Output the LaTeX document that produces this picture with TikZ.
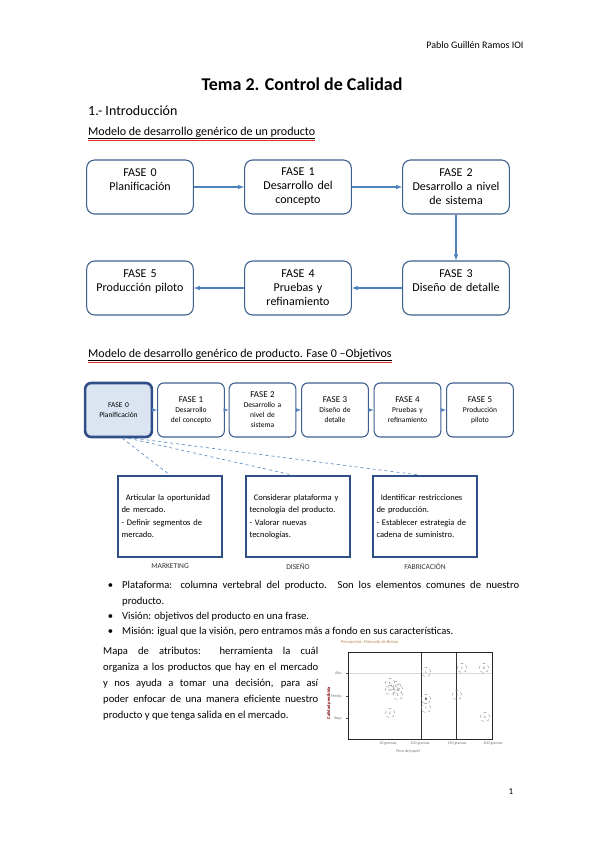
\documentclass[tikz,border=0pt]{standalone}
\usepackage{fontspec}
\setmainfont{Carlito}
\usetikzlibrary{calc}
\usetikzlibrary{positioning}

\definecolor{bordefase}{RGB}{62,96,142}
\definecolor{flechaazul}{RGB}{79,129,189}
\definecolor{fondofase}{RGB}{219,229,241}
\definecolor{bordeobj}{RGB}{48,78,135}
\definecolor{subrayado}{RGB}{230,40,40}

\tikzset{
  fase/.style={rectangle, rounded corners=8pt, draw=bordefase, line width=1.1pt, minimum width=104pt, minimum height=54pt, text width=100pt, align=center, font=\fontsize{12}{14}\selectfont},
  fasemini/.style={rectangle, rounded corners=6pt, draw=bordefase, line width=1.1pt, minimum width=62pt, minimum height=54pt, text width=60pt, align=center, font=\fontsize{7.5}{10}\selectfont},
  flecha/.style={->, >=latex, draw=flechaazul, line width=1.1pt},
  flechamini/.style={->, >=latex, draw=flechaazul, line width=0.7pt},
  sincortes/.style={execute at begin node={\hyphenpenalty=10000\relax}},
  objetivo/.style={rectangle, draw=bordeobj, line width=1.8pt, minimum width=104pt, minimum height=81pt, text width=97pt, align=left, font=\fontsize{8.5}{12}\selectfont, sincortes},
  area/.style={font=\fontsize{7.5}{9}\selectfont, text=black!80},
  producto/.style={circle, draw=black!45, dashed, line width=0.4pt, minimum size=9.5pt, inner sep=0pt, font=\fontsize{3.5}{4}\selectfont, text=black!60},
  mini/.style={font=\fontsize{4}{5}\selectfont, text=black!55}
}

\begin{document}
\begin{tikzpicture}[x=1pt, y=-1pt]
    \useasboundingbox (0,0) rectangle (599,848);

    % cabecera y titulos
    \node [anchor=east, font=\fontsize{10}{12}\selectfont] (autor) at (527,45) {Pablo Guillén Ramos IOI};
    \node [font=\fontsize{18}{21}\bfseries\selectfont] (titulo) at (302,84) {Tema 2. Control de Calidad};
    \node [anchor=west, inner sep=0pt, font=\fontsize{14}{16}\selectfont] (intro) at (88,111) {1.- Introducción};
    \node [anchor=west, inner sep=0pt, font=\fontsize{12}{14}\selectfont] (modelo) at (88,133) {\underline{Modelo de desarrollo genérico de un producto}};
    \draw [subrayado, line width=0.9pt] ([yshift=-1.2pt]modelo.south west) -- ([yshift=-1.2pt]modelo.south east);

    % modelo generico
    \node [fase] (fase0) at (140,187) {FASE 0\\Planificación\\~};
    \node [fase] (fase1) at (298,187) {FASE 1\\Desarrollo del\\concepto};
    \node [fase] (fase2) at (456,187) {FASE 2\\Desarrollo a nivel\\de sistema};
    \node [fase] (fase3) at (456,288) {FASE 3\\Diseño de detalle\\~};
    \node [fase] (fase4) at (298,288) {FASE 4\\Pruebas y\\refinamiento};
    \node [fase] (fase5) at (140,288) {FASE 5\\Producción piloto\\~};

    \draw [flecha] (fase0) -- (fase1);
    \draw [flecha] (fase1) -- (fase2);
    \draw [flecha] (fase2) -- (fase3);
    \draw [flecha] (fase3) -- (fase4);
    \draw [flecha] (fase4) -- (fase5);

    % fase 0 objetivos
    \node [anchor=west, inner sep=0pt, font=\fontsize{12}{14}\selectfont] (modelodos) at (88,355) {\underline{Modelo de desarrollo genérico de producto. Fase 0 --Objetivos}};
    \draw [subrayado, line width=0.9pt] ([yshift=-1.2pt]modelodos.south west) -- ([yshift=-1.2pt]modelodos.south east);

    \node [fasemini, line width=2.6pt, draw=bordeobj, fill=fondofase] (mini0) at (118.5,410) {FASE 0\\Planificación};
    \node [fasemini] (mini1) at (191,410) {{\fontsize{9}{10}\selectfont FASE 1}\\Desarrollo\\del concepto};
    \node [fasemini] (mini2) at (262.5,410) {{\fontsize{9}{10}\selectfont FASE 2}\\Desarrollo a\\nivel de\\sistema};
    \node [fasemini] (mini3) at (335,410) {{\fontsize{9}{10}\selectfont FASE 3}\\Diseño de\\detalle};
    \node [fasemini] (mini4) at (407.5,410) {{\fontsize{9}{10}\selectfont FASE 4}\\Pruebas y\\refinamiento};
    \node [fasemini] (mini5) at (480,410) {{\fontsize{9}{10}\selectfont FASE 5}\\Producción\\piloto};

    \draw [flechamini] (mini0) -- (mini1);
    \draw [flechamini] (mini1) -- (mini2);
    \draw [flechamini] (mini2) -- (mini3);
    \draw [flechamini] (mini3) -- (mini4);
    \draw [flechamini] (mini4) -- (mini5);

    \node [objetivo] (marketing) at (170,516.5) {\ \,Articular la oportunidad de mercado.\\[1pt]- Definir segmentos de mercado.};
    \node [objetivo] (disenio) at (298,516.5) {\ \,Considerar plataforma y tecnología del producto.\\[1pt]- Valorar nuevas tecnologías.};
    \node [objetivo] (fabrica) at (425,516.5) {\ \,Identificar restricciones de producción.\\[1pt]- Establecer estrategia de cadena de suministro.};

    \node [area, below=2pt of marketing] (lblmk) {MARKETING};
    \node [area, below=2pt of disenio] (lbldis) {DISEÑO};
    \node [area, below=2pt of fabrica] (lblfab) {FABRICACIÓN};

    \draw [flechaazul, dashed, line width=0.6pt] ([xshift=4pt]mini0.south) -- (marketing.north);
    \draw [flechaazul, dashed, line width=0.6pt] ([xshift=10pt]mini0.south) -- ([xshift=-5pt]disenio.north);
    \draw [flechaazul, dashed, line width=0.6pt] ([xshift=16pt]mini0.south) -- ([xshift=-5pt]fabrica.north);

    % conceptos
    \node [anchor=north west, inner sep=0pt, text width=416pt, align=justify, font=\fontsize{10.6}{15.4}\selectfont, sincortes] (conceptos) at (103,573) {%
      \begin{list}{\textbullet}{\leftmargin=19pt \labelwidth=10pt \labelsep=9pt \itemsep=0pt \parsep=0pt \topsep=0pt}
      \item Plataforma: columna vertebral del producto. Son los elementos comunes de nuestro producto.
      \item Visión: objetivos del producto en una frase.
      \item Misión: igual que la visión, pero entramos más a fondo en sus características.
      \end{list}};

    \node [anchor=north west, inner sep=0pt, text width=215pt, align=justify, font=\fontsize{10.6}{16}\selectfont] (mapa) at (103,647) {Mapa de atributos: herramienta la cuál\linebreak organiza a los productos que hay en el mercado\linebreak y nos ayuda a tomar una decisión, para así\linebreak poder enfocar de una manera eficiente nuestro\linebreak producto y que tenga salida en el mercado.};

    % mapa de atributos
    \node [anchor=west, inner sep=0pt, font=\fontsize{4.5}{5}\selectfont, text=orange!60!black!70] (tmapa) at (341,642) {Percepción: Mercado de Bolsas};
    \draw [black!15, line width=0.8pt] (348,673) -- (492,673);
    \draw [black!80, line width=1pt] (421,652) -- (421,739);
    \draw [black!80, line width=1pt] (456,652) -- (456,739);
    \draw [black!85, line width=1pt] (348,652) rectangle (492,739);
    \foreach \yy/\nivel in {673/Alta, 696/Media, 718/Baja} {
      \draw [black!70, line width=0.4pt] (346,\yy) -- (348,\yy);
      \node [mini, anchor=east] at (345,\yy) {\nivel};
    }
    \foreach \xx/\peso in {388/50 gramos, 420/100 gramos, 457/150 gramos, 493/200 gramos}
      \node [mini] at (\xx,744) {\peso};
    \node [mini] (ejex) at (408,751) {Peso del papel};
    \node [rotate=90, font=\fontsize{4.5}{5}\bfseries\selectfont, text=red!50!black] (ejey) at (329,703) {Calidad percibida};

    \node [producto] (pa) at (426,672) {L};
    \node [producto] (pb) at (462,668) {S};
    \node [producto] (pc) at (484,668) {B};
    \node [producto] (pd) at (390,683) {E};
    \node [producto] (pe) at (396,686) {A};
    \node [producto] (pf) at (390,690) {M};
    \node [producto] (pg) at (398,689) {P};
    \node [producto] (ph) at (398,695) {C};
    \node [producto, text=black] (pi) at (426,699) {\textbf{B}};
    \node [producto] (pj) at (426,708) {T};
    \node [producto] (pk) at (457,695) {V};
    \node [producto] (pl) at (390,713) {G};
    \node [producto] (pm) at (485,717) {A};

    \node [font=\fontsize{9}{11}\selectfont] (pagina) at (511,792) {1};
\end{tikzpicture}
\end{document}
